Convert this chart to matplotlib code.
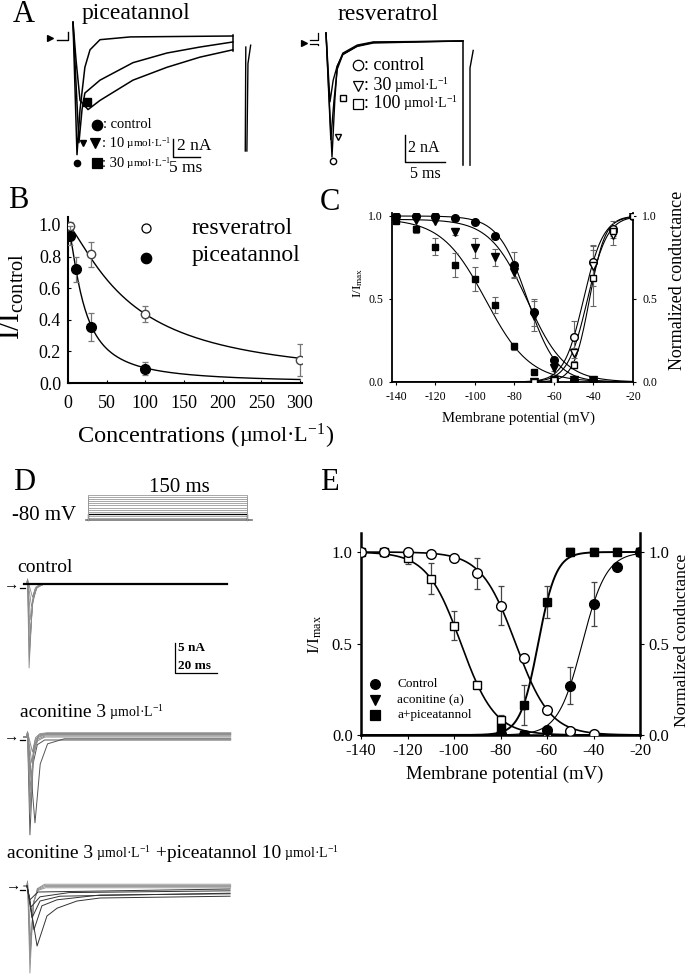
import numpy as np
import matplotlib
matplotlib.use("Agg")
import matplotlib.pyplot as plt
import matplotlib.transforms as mtransforms
from matplotlib.lines import Line2D
from matplotlib.ticker import FormatStrFormatter

plt.rcParams['font.family'] = ['Liberation Serif', 'DejaVu Serif']
plt.rcParams['mathtext.fontset'] = 'custom'
plt.rcParams['mathtext.rm'] = 'Liberation Serif'
plt.rcParams['mathtext.it'] = 'Liberation Serif:italic'
plt.rcParams['mathtext.default'] = 'regular'
plt.rcParams['axes.unicode_minus'] = False

UNIT = 'µmol·L$^{-1}$'

# ---------------- A: example Na currents (t in ms, I in nA) ----------------
a1_ctrl_t = [0, 0.74, 1.3, 2.2, 3.15, 5.0, 10.6, 29.6]
a1_ctrl_i = [1.5, -12.9, -8.0, -3.4, -1.5, -0.4, -0.1, 0.0]
a1_p10_t = [0, 1.1, 1.67, 2.2, 5.0, 11.1, 17.4, 23.5, 29.6]
a1_p10_i = [1.5, -11.6, -8.0, -6.2, -4.8, -2.9, -1.85, -1.2, -0.65]
a1_p30_t = [0, 0.56, 1.3, 2.78, 5.0, 11.1, 17.4, 23.5, 29.6]
a1_p30_i = [1.5, -2.6, -7.0, -8.0, -7.0, -4.8, -3.4, -2.3, -1.5]

a2_ctrl_t = [0, 0.75, 1.1, 1.4, 2.1, 3.9, 5.9, 17.1]
a2_ctrl_i = [0.6, -8.6, -4.4, -1.9, -0.9, -0.3, -0.07, 0.0]
a2_r30_t = [0, 0.6, 1.0, 1.4, 2.1, 3.9, 5.9, 17.1]
a2_r30_i = [0.6, -7.3, -4.4, -2.1, -1.0, -0.37, -0.1, 0.0]
a2_r100_t = [0, 0.5, 0.9, 1.4, 2.1, 3.9, 5.9, 17.1]
a2_r100_i = [0.6, -4.5, -2.9, -1.85, -1.0, -0.4, -0.15, 0.0]

# ---------------- B: concentration-response ----------------
b_res_c = [3, 30, 100, 300]
b_res = [0.99, 0.815, 0.435, 0.145]
b_res_err = [0.03, 0.08, 0.05, 0.10]
b_pic_c = [3, 10, 30, 100]
b_pic = [0.93, 0.72, 0.355, 0.09]
b_pic_err = [0.06, 0.08, 0.09, 0.04]
b_fit_res = (82, 1.3)     # IC50, Hill slope
b_fit_pic = (20, 1.4)

# ---------------- C: inactivation / activation with piceatannol ----------------
c_v = [-140, -130, -120, -110, -100, -90, -80, -70, -60, -50, -40]
c_ctrl = [1.0, 1.0, 1.0, 0.99, 0.965, 0.88, 0.705, 0.42, 0.13, 0.01, 0.01]
c_ctrl_err = [0, 0, 0, 0, 0.01, 0.02, 0.08, 0.08, 0.02, 0, 0]
c_p10 = [0.98, 0.975, 0.97, 0.905, 0.805, 0.75, 0.665, 0.40, 0.085, 0.01, 0.01]
c_p10_err = [0, 0, 0, 0.02, 0.06, 0.05, 0.03, 0.09, 0.02, 0, 0]
c_p30 = [0.97, 0.92, 0.815, 0.705, 0.62, 0.465, 0.215, 0.06, 0.01, 0.01, 0.01]
c_p30_err = [0.01, 0.02, 0.05, 0.07, 0.07, 0.05, 0.02, 0.01, 0, 0, 0]
c_va = [-70, -60, -50, -40, -30, -20]
c_act_ctrl = [0.0, 0.01, 0.27, 0.725, 0.92, 1.0]
c_act_ctrl_err = [0, 0, 0.10, 0.10, 0.05, 0]
c_act_p10 = [0.0, 0.01, 0.175, 0.70, 0.885, 1.0]
c_act_p10_err = [0, 0, 0.03, 0.12, 0.06, 0]
c_act_p30 = [0.0, 0.01, 0.105, 0.625, 0.91, 1.0]
c_act_p30_err = [0, 0, 0.02, 0.17, 0.03, 0]
c_fit_inact = [(-73.5, 7.4, 1.0), (-73.5, 9.5, 0.98), (-94.5, 11.2, 0.985)]
c_fit_act = [(-45, 5.0), (-43, 5.0), (-42, 4.0)]

# ---------------- D: protocol and current families ----------------
d_steps_mv = [-70, -60, -50, -40, -30, -20, -10, 0, 10, 20, 30, 40]
d_ctrl_pk = [-14.0, -12.2, -10.5, -8.2, -6.0, -3.8, -2.2]
d_ctrl_tpk = [1.0, 1.1, 1.3, 1.5, 1.8, 2.2, 2.6]
d_acon_pk = [-16.3, -14.3, -12.7, -11.0, -8.8, -6.7, -4.3, -2.5]
d_acon_tpk = [1.4, 3.8, 1.5, 1.6, 1.8, 2.0, 2.3, 2.6]
d_acon_ss = [-0.5, -0.3, 0.0, 0.2, 0.4, 0.5, 0.6, 0.7]
d_pic_pk = [-14.5, -12.0, -10.7, -9.0]
d_pic_tpk = [1.4, 1.5, 1.6, 1.8]
d_pic_ss = [0.3, 0.1, -0.1, -0.3]
d_decay_dt = [0, 1.5, 3.5, 7.0]
d_decay_fr = [1.0, 0.25, 0.05, 0.0]
d_slow_dt = [0, 2.5, 6.0, 14.0]
d_slow_fr = [1.0, 0.3, 0.06, 0.0]
d_pic_slow = [
    ([0, 1.5, 4.8, 9.5, 14.3, 23.8, 34.8, 96.7], [0, -3.0, -10.0, -5.0, -3.7, -2.5, -2.0, -1.7]),
    ([0, 1.2, 3.3, 7.1, 14.3, 34.8, 96.7], [0, -2.0, -7.3, -3.3, -2.3, -1.5, -1.3]),
    ([0, 2.4, 6.2, 15.7, 96.7], [0, -5.3, -2.5, -1.7, -1.2]),
    ([0, 1.9, 6.2, 20.0, 96.7], [0, -3.5, -1.8, -1.1, -0.8]),
    ([0, 1.4, 5.2, 96.7], [0, -2.3, -1.0, -0.5]),
]

# ---------------- E: aconitine +/- piceatannol ----------------
e_v = [-140, -130, -120, -110, -100, -90, -80, -70, -60, -50, -40]
e_inact_ctrl = [1.0, 1.0, 1.0, 0.99, 0.965, 0.885, 0.707, 0.419, 0.138, 0.02, 0.005]
e_inact_ctrl_err = [0, 0, 0, 0, 0, 0.085, 0.105, 0, 0, 0, 0]
e_vs = [-140, -130, -120, -110, -100, -90, -80, -70, -60, -50]
e_inact_acon = [1.0, 1.0, 0.967, 0.854, 0.597, 0.275, 0.08, 0.0, 0.0, 0.0]
e_inact_acon_err = [0, 0, 0.03, 0.085, 0.08, 0.02, 0.03, 0, 0, 0]
e_va = [-80, -70, -60, -50, -40, -30, -20]
e_act_ctrl = [0.005, 0.0, 0.03, 0.27, 0.718, 0.916, 1.0]
e_act_ctrl_err = [0, 0, 0, 0.10, 0.12, 0, 0]
e_act_acon = [0.03, 0.16, 0.72, 1.0, 1.0, 1.0, 1.0]
e_act_pic = [0.04, 0.165, 0.727, 1.0, 1.0, 1.0, 1.0]
e_act_pic_err = [0, 0.11, 0.09, 0, 0, 0, 0]
e_fit_inact = [(-73.5, 7.4), (-97.0, 7.3)]
e_fit_act = [(-63.8, 3.85), (-44.85, 5.2)]


def hill(c, ic50, n):
    return 1.0 / (1.0 + (c / ic50) ** n)


def inact(v, vh, k, top=1.0):
    return top / (1.0 + np.exp((v - vh) / k))


def act(v, vh, k):
    return 1.0 / (1.0 + np.exp((vh - v) / k))


W, H = 691, 976
fig = plt.figure(figsize=(W / 100, H / 100), dpi=100)
P = mtransforms.Affine2D().scale(1, -1).translate(0, H)  # pixel coords, origin top-left


def box(l, t, r, b):
    return fig.add_axes([l / W, 1 - b / H, (r - l) / W, (b - t) / H])


def trace_ax(l, t, r, b, x0, sx, y0, sy, v0=0.0):
    ax = box(l, t, r, b)
    ax.set_xlim((l - x0) / sx, (r - x0) / sx)
    ax.set_ylim(v0 + (y0 - b) / sy, v0 + (y0 - t) / sy)
    ax.axis('off')
    return ax


def txt(x, y, s, size, **kw):
    kw.setdefault('va', 'center')
    return fig.text(x, y, s, transform=P, fontsize=size, **kw)


def mark(x, y, m, size, fc='k'):
    fig.add_artist(Line2D([x], [y], transform=P, marker=m, ms=size, mfc=fc,
                          mec='k', mew=0.9, ls='none'))


def hline(x1, x2, y, lw=1.0):
    fig.add_artist(Line2D([x1, x2], [y, y], transform=P, color='k', lw=lw))


def rich(x, y, parts):
    r = fig.canvas.get_renderer()
    for s, size in parts:
        t = fig.text(x, y, s, transform=P, fontsize=size, va='baseline', ha='left')
        x += t.get_window_extent(r).width


# ================= Panel A =================
txt(13, 15, 'A', 22)
txt(82, 14, 'piceatannol', 17)
txt(338, 14, 'resveratrol', 17)

axA1 = trace_ax(40, 18, 262, 175, x0=73, sx=5.4, y0=36, sy=9.2)
for tt, ii in [(a1_ctrl_t, a1_ctrl_i), (a1_p10_t, a1_p10_i), (a1_p30_t, a1_p30_i)]:
    axA1.plot(tt, ii, color='k', lw=1.1)
axA1.plot([-3.0, -0.9, -0.9], [-0.45, -0.45, 0.45], color='k', lw=1.0)
axA1.plot([29.6, 29.6], [0.1, -1.6], color='k', lw=1.1)
axA1.plot([31.9, 32.0], [-12.5, -1.2], color='k', lw=1.0)
axA1.plot([32.2, 32.4, 32.9], [-12.5, -3.0, -1.0], color='k', lw=1.0)
axA1.plot([0.74], [-13.8], 'o', color='k', ms=4.5)
axA1.plot([1.85], [-11.6], 'v', color='k', ms=5)
axA1.plot([2.6], [-7.2], 's', color='k', ms=6)
axA1.plot([18.5, 18.5, 23.5], [-11.15, -13.15, -13.15], color='k', lw=1.0)
mark(50, 38, '>', 5)
txt(177, 146, '2 nA', 12.5)
txt(186, 168, '5 ms', 12.5, ha='center')
mark(97, 125, 'o', 7.5)
txt(103, 125, ': control', 10.5)
mark(95, 143, 'v', 7.5)
rich(102, 147, [(': 10', 10.5), (' ' + UNIT, 8)])
mark(97, 163, 's', 7)
rich(102, 167, [(': 30', 10.5), (' ' + UNIT, 8)])

axA2 = trace_ax(295, 25, 480, 172, x0=326, sx=8.0, y0=41, sy=13.5)
for tt, ii in [(a2_ctrl_t, a2_ctrl_i), (a2_r30_t, a2_r30_i), (a2_r100_t, a2_r100_i)]:
    axA2.plot(tt, ii, color='k', lw=1.0)
axA2.plot([-2.0, -1.0, -1.0], [0.07, 0.07, 0.59], color='k', lw=0.9)
axA2.plot([-2.0, -1.0, -1.0], [-0.22, -0.22, -0.3], color='k', lw=0.9)
axA2.plot([17.1, 17.1], [0.0, -9.2], color='k', lw=1.1)
axA2.plot([18.0, 18.0, 18.4], [-9.2, -2.0, -0.7], color='k', lw=1.0)
axA2.plot([0.875], [-8.9], 'o', mfc='w', mec='k', ms=4.5)
axA2.plot([1.5], [-7.1], 'v', mfc='w', mec='k', ms=5)
axA2.plot([2.1], [-4.2], 's', mfc='w', mec='k', ms=4.5)
axA2.plot([9.875, 9.875, 14.875], [-6.96, -8.96, -8.96], color='k', lw=1.0)
mark(304, 43, '>', 5)
txt(408, 148, '2 nA', 11.5)
txt(425, 174, '5 ms', 11.5, ha='center')
mark(358, 65, 'o', 7.5, fc='w')
txt(364, 65, ': control', 13)
mark(358, 86, 'v', 7.5, fc='w')
rich(364, 90, [(': 30', 13), (' ' + UNIT, 10)])
mark(358, 104, 's', 7.5, fc='w')
rich(364, 108, [(': 100', 13), (' ' + UNIT, 10)])

# ================= Panel B =================
txt(8, 200, 'B', 22)
axB = box(68, 217, 302, 383)
cc = np.linspace(0, 300, 300)
axB.plot(cc, hill(cc, *b_fit_res), color='k', lw=1.0)
axB.plot(cc, hill(cc, *b_fit_pic), color='k', lw=1.0)
axB.errorbar(b_res_c, b_res, yerr=b_res_err, fmt='o', mfc='w', mec='#444', ms=6,
             ecolor='#777', elinewidth=0.9, capsize=2.5, capthick=0.9, zorder=3)
axB.errorbar(b_pic_c, b_pic, yerr=b_pic_err, fmt='o', mfc='k', mec='k', ms=7,
             ecolor='#777', elinewidth=0.9, capsize=2.5, capthick=0.9, zorder=4)
axB.set_xlim(0, 302.6)
axB.set_ylim(0, 1.05)
axB.set_xticks([0, 50, 100, 150, 200, 250, 300])
axB.set_yticks([0, 0.2, 0.4, 0.6, 0.8, 1.0])
axB.yaxis.set_major_formatter(FormatStrFormatter('%.1f'))
for s in ['top', 'right']:
    axB.spines[s].set_visible(False)
for s in ['left', 'bottom']:
    axB.spines[s].set_linewidth(1.5)
axB.tick_params(axis='x', direction='in', length=2, labelsize=13, pad=9)
axB.tick_params(axis='y', direction='in', length=2, labelsize=13, pad=5)
mark(146, 228, 'o', 6.5, fc='w')
txt(192, 228, 'resveratrol', 17)
mark(146, 258, 'o', 7.5)
txt(192, 256, 'piceatannol', 17)
txt(12, 296, r'$I/I_{control}$', 21, rotation=90, ha='center')
rich(78, 442, [('Concentrations (', 17.5), (UNIT, 16), (')', 17.5)])

# ================= Panel C =================
txt(320, 202, 'C', 22)
axC = box(392, 213, 633, 382)
vv = np.linspace(-142, -20, 300)
for (vh, k, top) in c_fit_inact:
    axC.plot(vv, inact(vv, vh, k, top), color='k', lw=0.8)
for (vh, k) in c_fit_act:
    axC.plot(vv, act(vv, vh, k), color='k', lw=0.8)
eb = dict(ecolor='#666', elinewidth=0.8, capsize=2, capthick=0.8, ls='none')
axC.errorbar(c_v, c_ctrl, yerr=c_ctrl_err, marker='o', mfc='k', mec='k', ms=5.5, zorder=4, **eb)
axC.errorbar(c_v, c_p10, yerr=c_p10_err, marker='v', mfc='k', mec='k', ms=6, zorder=4, **eb)
axC.errorbar(c_v, c_p30, yerr=c_p30_err, marker='s', mfc='k', mec='k', ms=5, zorder=4, **eb)
axC.errorbar(c_va, c_act_ctrl, yerr=c_act_ctrl_err, marker='o', mfc='w', mec='k', ms=5.5, zorder=5, **eb)
axC.errorbar(c_va, c_act_p10, yerr=c_act_p10_err, marker='v', mfc='w', mec='k', ms=6, zorder=5, **eb)
axC.errorbar(c_va, c_act_p30, yerr=c_act_p30_err, marker='s', mfc='w', mec='k', ms=5, zorder=5, **eb)
axC.set_xlim(-142, -20)
axC.set_ylim(0, 1.018)
axC.set_xticks(range(-140, -19, 20))
axC.set_yticks([0, 0.5, 1.0])
axC.yaxis.set_major_formatter(FormatStrFormatter('%.1f'))
axC.spines['top'].set_visible(False)
for s in ['left', 'right', 'bottom']:
    axC.spines[s].set_linewidth(1.3)
axC.tick_params(direction='out', length=2.5, labelsize=8.5, pad=4)
axC.tick_params(axis='y', right=True, labelright=True)
txt(358, 283, r'$I/I_{max}$', 9.5, rotation=90, ha='center')
txt(677, 280, 'Normalized conductance', 13, rotation=90, ha='center')
txt(518, 418, 'Membrane potential (mV)', 10.5, ha='center')

# ================= Panel D =================
txt(13, 483, 'D', 22)
txt(179, 487, '150 ms', 15, ha='center')
txt(12, 516, '-80 mV', 15)
axDp = trace_ax(80, 488, 262, 526, x0=88, sx=1.06, y0=520, sy=25 / 120, v0=-80)
axDp.plot([-2, 155], [-80, -80], color='#777', lw=1.2)
for v in d_steps_mv:
    axDp.plot([0, 0, 150, 150], [-80, v, v, -80],
              color='k' if v == -50 else '#999', lw=0.9 if v == -50 else 0.6)

txt(17, 567, 'control', 14)
axD1 = trace_ax(20, 568, 240, 682, x0=27, sx=2.1, y0=584, sy=6)
for pk, tp in zip(d_ctrl_pk, d_ctrl_tpk):
    t = [-1.5, 0, 0.25] + [tp + d for d in d_decay_dt] + [95]
    i = [0, 0, 0.8] + [pk * f for f in d_decay_fr] + [0]
    axD1.plot(t, i, color='#8a8a8a', lw=0.6)
axD1.plot([-1.5, 95], [0, 0], color='k', lw=1.6)
axD1.plot([70.5, 70.5, 90.5], [-9.83, -14.83, -14.83], color='k', lw=0.9)
txt(4, 585, '→', 11)
hline(20, 25, 588, 0.9)
txt(178, 648, '5 nA', 9.5, weight='bold')
txt(178, 666, '20 ms', 9.5, weight='bold')

rich(20, 717, [('aconitine 3', 14), (' ' + UNIT, 10)])
axD2 = trace_ax(20, 722, 240, 850, x0=27, sx=2.1, y0=737, sy=6)
for n, (pk, tp, ss) in enumerate(zip(d_acon_pk, d_acon_tpk, d_acon_ss)):
    dt, fr = (d_slow_dt, d_slow_fr) if n == 1 else (d_decay_dt, d_decay_fr)
    t = [-1.5, 0, 0.25] + [tp + d for d in dt] + [97]
    i = [0, 0, 0.8] + [pk * f + ss * (1 - f) for f in fr] + [ss]
    axD2.plot(t, i, color='#555' if n < 2 else '#8a8a8a', lw=0.7)
txt(4, 737, '→', 11)
hline(20, 25, 740, 0.9)

rich(7, 858, [('aconitine 3', 14), (' ' + UNIT, 10), (' +piceatannol 10', 14), (' ' + UNIT, 10)])
axD3 = trace_ax(20, 872, 240, 976, x0=27, sx=2.1, y0=886, sy=6)
for pk, tp, ss in zip(d_pic_pk, d_pic_tpk, d_pic_ss):
    t = [-1.5, 0, 0.25] + [tp + d for d in d_decay_dt] + [97]
    i = [0, 0, 0.8] + [pk * f + ss * (1 - f) for f in d_decay_fr] + [ss]
    axD3.plot(t, i, color='#8a8a8a', lw=0.6)
for tt, ii in d_pic_slow:
    axD3.plot(tt, ii, color='#333', lw=0.7)
txt(6, 886, '→', 11)
hline(20, 25, 890, 0.9)

# ================= Panel E =================
txt(320, 483, 'E', 22)
axE = box(361, 533, 640, 735)
vv = np.linspace(-140, -20, 300)
axE.plot(vv, inact(vv, *e_fit_inact[0]), color='k', lw=1.2)
axE.plot(vv, inact(vv, *e_fit_inact[1]), color='k', lw=1.2)
axE.plot(vv, act(vv, *e_fit_act[0]), color='k', lw=1.4)
axE.plot(vv, act(vv, *e_fit_act[1]), color='k', lw=0.8)
eb = dict(ecolor='#444', elinewidth=0.9, capsize=2.5, capthick=0.9, ls='none')
axE.errorbar(e_vs, e_inact_acon, yerr=e_inact_acon_err, marker='s', mfc='w', mec='k', ms=6, zorder=4, **eb)
axE.errorbar(e_v, e_inact_ctrl, yerr=e_inact_ctrl_err, marker='o', mfc='w', mec='k', ms=7, zorder=5, **eb)
axE.errorbar(e_va, e_act_ctrl, yerr=e_act_ctrl_err, marker='o', mfc='k', mec='k', ms=7, zorder=4, **eb)
axE.plot(e_va, e_act_acon, 'v', color='k', ms=6, zorder=4)
axE.errorbar(e_va, e_act_pic, yerr=e_act_pic_err, marker='s', mfc='k', mec='k', ms=6, zorder=5, **eb)
axE.set_xlim(-140, -20)
axE.set_ylim(0, 1.104)
axE.set_xticks(range(-140, -19, 20))
axE.set_yticks([0, 0.5, 1.0])
axE.yaxis.set_major_formatter(FormatStrFormatter('%.1f'))
axE.spines['top'].set_visible(False)
for s in ['left', 'right', 'bottom']:
    axE.spines[s].set_linewidth(1.8)
axE.tick_params(direction='out', length=3, labelsize=12, pad=3)
axE.tick_params(axis='y', right=True, labelright=True)
txt(315, 634, r'$I/I_{max}$', 12.5, rotation=90, ha='center')
txt(682, 640, 'Normalized conductance', 12.5, rotation=90, ha='center')
txt(505, 774, 'Membrane potential (mV)', 13.5, ha='center')
mark(375, 684, 'o', 7)
txt(397, 684, 'Control', 9.5)
mark(375, 700, 'v', 7)
txt(397, 700, 'aconitine (a)', 9.5)
mark(375, 715, 's', 6.5)
txt(397, 715, 'a+piceatannol', 9.5)

fig.savefig('out.png', dpi=100)
